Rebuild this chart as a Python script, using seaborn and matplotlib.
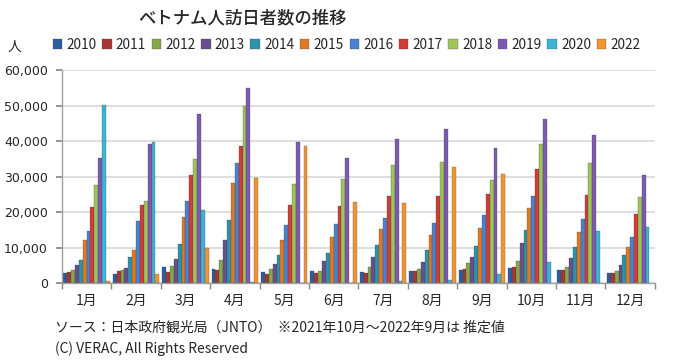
import numpy as np
import pandas as pd
import matplotlib
matplotlib.use('Agg')
import matplotlib.pyplot as plt
import seaborn as sns
from matplotlib.ticker import FuncFormatter, FixedLocator

# ベトナム人訪日者数 (月別, 人)
months = ['1月', '2月', '3月', '4月', '5月', '6月', '7月', '8月', '9月', '10月', '11月', '12月']
years = ['2010', '2011', '2012', '2013', '2014', '2015', '2016', '2017', '2018', '2019', '2020', '2022']

v2010 = [2700, 2600, 4500, 4000, 3000, 3350, 3200, 3350, 3550, 4100, 3650, 2800]
v2011 = [3100, 3300, 3200, 3750, 2600, 2800, 2900, 3350, 4000, 4650, 3650, 2800]
v2012 = [3550, 3550, 4850, 6350, 4000, 3450, 4500, 4000, 5600, 6150, 4600, 3450]
v2013 = [4950, 4300, 6650, 12000, 5400, 6250, 7200, 5900, 7300, 11200, 7100, 5150]
v2014 = [6550, 7300, 11000, 17750, 7850, 8400, 10850, 9350, 10550, 15050, 10200, 7850]
v2015 = [12150, 9350, 18600, 28200, 12150, 13000, 15250, 13650, 15400, 21200, 14400, 10200]
v2016 = [14700, 17400, 23000, 33900, 16250, 16550, 18400, 17000, 19150, 24500, 17950, 12900]
v2017 = [21500, 21900, 30400, 38600, 21900, 21800, 24500, 24500, 25200, 32200, 24700, 19450]
v2018 = [27600, 23200, 35000, 50000, 27850, 29350, 33200, 34000, 29000, 39150, 33750, 24200]
v2019 = [35100, 39200, 47600, 55000, 39600, 35100, 40500, 43450, 38000, 46150, 41600, 30400]
v2020 = [50100, 39600, 20650, 200, 100, 100, 560, 950, 2600, 6000, 14600, 15700]
v2022 = [500, 2600, 10000, 29500, 38700, 22700, 22500, 32800, 30650, np.nan, np.nan, np.nan]

series = [v2010, v2011, v2012, v2013, v2014, v2015, v2016, v2017, v2018, v2019, v2020, v2022]

colors = ['#2f5d9c', '#a63634', '#85a84a', '#664e8f', '#2c93ab', '#de7a26',
          '#4a82cf', '#cf3d38', '#9ec45a', '#7d5ab0', '#3bb5d3', '#f39433']

rows = []
for y, vals in zip(years, series):
    for m, v in zip(months, vals):
        rows.append({'month': m, 'year': y, 'visitors': v})
df = pd.DataFrame(rows)

sns.set_theme(style='white')
plt.rcParams['font.family'] = ['Noto Sans CJK JP', 'DejaVu Sans']

fig = plt.figure(figsize=(6.73, 3.61), dpi=100)
ax = fig.add_axes([0.092, 0.216, 0.881, 0.59])

sns.barplot(data=df, x='month', y='visitors', hue='year', order=months,
            hue_order=years, palette=colors, saturation=1, width=0.94, ax=ax,
            edgecolor='#444444', linewidth=0.2, legend=True)

ax.set_ylim(0, 60000)
ax.set_xlim(-0.5, 11.5)
ax.yaxis.set_major_formatter(FuncFormatter(lambda v, p: f'{int(v):,}'))
ax.set_yticks(np.arange(0, 60001, 10000))
ax.yaxis.grid(True, color='#d9d9d9', linewidth=1.2)
ax.set_axisbelow(True)
ax.set_xlabel('')
ax.set_ylabel('')
ax.tick_params(axis='y', labelsize=9, length=4, color='#888888', left=True, pad=6)
ax.tick_params(axis='x', labelsize=10, length=0, pad=8)
for lab in ax.get_yticklabels():
    lab.set_family(['DejaVu Sans'])
ax.xaxis.set_minor_locator(FixedLocator(np.arange(-0.5, 12, 1)))
ax.tick_params(axis='x', which='minor', length=4, color='#888888', bottom=True)
for s in ['top', 'right']:
    ax.spines[s].set_visible(False)
for s in ['left', 'bottom']:
    ax.spines[s].set_color('#a0a0a0')
    ax.spines[s].set_linewidth(1.0)

ax.legend(loc='lower left', bbox_to_anchor=(-0.025, 1.06), ncol=12, frameon=False,
          fontsize=9.8, handlelength=0.7, handleheight=0.7, handletextpad=0.3,
          columnspacing=0.42, borderaxespad=0)

fig.text(0.36, 0.95, 'ベトナム人訪日者数の推移', ha='center', va='center',
         fontsize=12.5, fontweight='medium')
fig.text(0.022, 0.87, '人', ha='center', va='center', fontsize=10)
fig.text(0.082, 0.093, 'ソース：日本政府観光局（JNTO）  ※2021年10月～2022年9月は 推定値',
         ha='left', va='center', fontsize=10)
fig.text(0.082, 0.035, '(C) VERAC, All Rights Reserved', ha='left', va='center', fontsize=10)

fig.savefig('out.png', dpi=100)
